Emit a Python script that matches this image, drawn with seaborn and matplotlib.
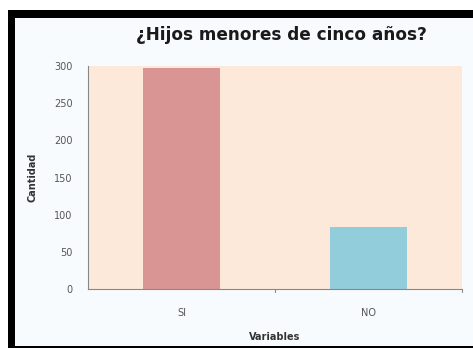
import matplotlib
matplotlib.use("Agg")
import matplotlib.pyplot as plt
from matplotlib.patches import Rectangle
import seaborn as sns
import pandas as pd

categories = ["SI", "NO"]
cantidad = [297, 84]
bar_colors = ["#D99594", "#92CDDC"]

sns.set_theme(style="white")
plt.rcParams["font.family"] = ["DejaVu Sans"]

W, H = 473, 348
fig = plt.figure(figsize=(W / 100, H / 100), dpi=100)
fig.patch.set_facecolor("white")

# dark frame (top, left, bottom) and light inner panel
fig.patches.append(Rectangle((8 / W, 0), 465 / W, 1 - 10 / H, transform=fig.transFigure,
                             facecolor="black", edgecolor="none", zorder=-10))
fig.patches.append(Rectangle((15 / W, 2 / H), 458 / W, 1 - 20 / H, transform=fig.transFigure,
                             facecolor="#F8FBFE", edgecolor="none", zorder=-9))

ax = fig.add_axes([88 / W, (H - 289) / H, (462 - 88) / W, (289 - 66) / H])
ax.set_facecolor("#FDE9D9")

df = pd.DataFrame({"Variables": categories, "Cantidad": cantidad})
sns.barplot(data=df, x="Variables", y="Cantidad", hue="Variables", palette=bar_colors,
            width=0.41, legend=False, ax=ax, saturation=1, linewidth=0)

ax.set_xlim(-0.5, 1.5)
ax.set_ylim(0, 300)
ax.set_yticks(range(0, 301, 50))
ax.tick_params(axis="y", length=3, color="#888888", labelsize=7, labelcolor="#555555", pad=8)
ax.tick_params(axis="x", length=0, labelsize=7, labelcolor="#555555", pad=14)
ax.set_xticks([0, 1])
ax.set_xticklabels(categories)
# category boundary tick marks
for xb in [0.5, 1.5]:
    ax.plot([xb, xb], [0, -4], color="#888888", lw=0.8, clip_on=False)

for side in ["top", "right"]:
    ax.spines[side].set_visible(False)
for side in ["left", "bottom"]:
    ax.spines[side].set_color("#888888")
    ax.spines[side].set_linewidth(0.8)

ax.set_xlabel("Variables", fontsize=7, fontweight="bold", color="#333333", labelpad=10)
ax.set_ylabel("Cantidad", fontsize=7, fontweight="bold", color="#333333", labelpad=12)
fig.text(281 / W, 1 - 35 / H, "¿Hijos menores de cinco años?", ha="center", va="center",
         fontsize=12.2, fontweight="bold", color="#1a1a1a")

fig.savefig("out.png", dpi=100, facecolor=fig.get_facecolor())
